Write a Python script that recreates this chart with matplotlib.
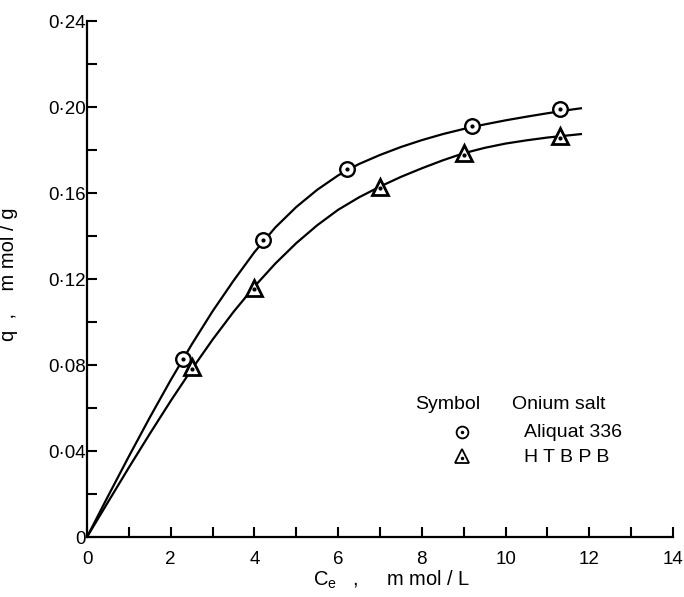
"""
plot.py
---------------------------------------
Adsorption isotherms for two onium salts
"""

import matplotlib
matplotlib.use("Agg")
import matplotlib.pyplot as plt

plt.rcParams["font.family"] = ["Liberation Sans", "DejaVu Sans"]
plt.rcParams["mathtext.default"] = "regular"

########################################################

# measured points
aliquat_x = [2.3, 4.2, 6.2, 9.2, 11.3]
aliquat_q = [0.083, 0.138, 0.171, 0.191, 0.199]

htbpb_x = [2.5, 4.0, 7.0, 9.0, 11.3]
htbpb_q = [0.079, 0.116, 0.163, 0.1786, 0.1865]

# smooth curves
curve_x = [0, 0.5, 1, 1.5, 2, 2.5, 3, 3.5, 4, 4.5, 5, 5.5, 6, 6.5,
           7, 7.5, 8, 8.5, 9, 9.5, 10, 10.5, 11, 11.5, 11.8]
aliquat_curve = [0, 0.0189, 0.0375, 0.0556, 0.0730, 0.0895, 0.1050,
                 0.1192, 0.1325, 0.1440, 0.1535, 0.1615, 0.1682,
                 0.1735, 0.1777, 0.1814, 0.1846, 0.1874, 0.1898,
                 0.1919, 0.1938, 0.1955, 0.1971, 0.1986, 0.1994]
htbpb_curve = [0, 0.0162, 0.0323, 0.0480, 0.0633, 0.0779, 0.0918,
               0.1047, 0.1165, 0.1272, 0.1367, 0.1450, 0.1522,
               0.1580, 0.1630, 0.1675, 0.1715, 0.1752, 0.1785,
               0.1810, 0.1830, 0.1845, 0.1858, 0.1868, 0.1874]

x_ticks = [0, 2, 4, 6, 8, 10, 12, 14]
y_ticks = [0, 0.04, 0.08, 0.12, 0.16, 0.20, 0.24]
y_tick_labels = ["0", "0·04", "0·08", "0·12", "0·16", "0·20", "0·24"]

########################################################

fig = plt.figure(figsize=(6.84, 5.97), dpi=100)
ax = fig.add_axes([0.1272, 0.1005, 0.8567, 0.8643])

ax.plot(curve_x, aliquat_curve, color="black", lw=1.6, zorder=2)
ax.plot(curve_x, htbpb_curve, color="black", lw=1.6, zorder=2)

ax.plot(aliquat_x, aliquat_q, ls="none", marker="o", ms=10.5,
        mfc="white", mec="black", mew=1.7, zorder=3)
ax.plot(htbpb_x, htbpb_q, ls="none", marker="^", ms=11.5,
        mfc="white", mec="black", mew=2.0, zorder=3)

# centre dots
ax.plot(aliquat_x, aliquat_q, ls="none", marker="o", ms=2,
        color="black", zorder=4)
ax.plot(htbpb_x, [v - 0.0008 for v in htbpb_q], ls="none", marker="o",
        ms=2, color="black", zorder=4)

ax.set_xlim(0, 14)
ax.set_ylim(0, 0.24)

ax.set_xticks(x_ticks)
ax.set_xticks(range(0, 15), minor=True)
ax.set_yticks(y_ticks)
ax.set_yticklabels(y_tick_labels)
ax.set_yticks([i * 0.02 for i in range(13)], minor=True)

ax.tick_params(which="both", direction="in", length=7, width=1.5,
               labelsize=13.5, top=False, right=False)
ax.tick_params(axis="x", which="both", pad=10)
ax.tick_params(axis="y", which="both", pad=1)

for side in ["top", "right"]:
    ax.spines[side].set_visible(False)
for side in ["left", "bottom"]:
    ax.spines[side].set_linewidth(1.6)

ax.set_xlabel("C$_e$   ,     m mol / L", fontsize=14.5)
ax.xaxis.set_label_coords(0.52, -0.062)
ax.set_ylabel("q  ,    m mol / g", fontsize=14.5)
ax.yaxis.set_label_coords(-0.118, 0.51)

########################################################

# legend drawn as a small table
ax.text(7.85, 0.0614, "Symbol", fontsize=14, va="center")
ax.text(10.15, 0.0614, "Onium salt", fontsize=14, va="center")

ax.plot([8.95], [0.0488], ls="none", marker="o", ms=8.5,
        mfc="white", mec="black", mew=1.3)
ax.plot([8.95], [0.0488], ls="none", marker="o", ms=1.5, color="black")
ax.text(10.45, 0.0488, "Aliquat 336", fontsize=14, va="center")

ax.plot([8.95], [0.0377], ls="none", marker="^", ms=9.5,
        mfc="white", mec="black", mew=1.3)
ax.plot([8.95], [0.0368], ls="none", marker="o", ms=1.5, color="black")
ax.text(10.45, 0.0372, "H T B P B", fontsize=14, va="center")

plt.savefig("out.png", dpi=100)
